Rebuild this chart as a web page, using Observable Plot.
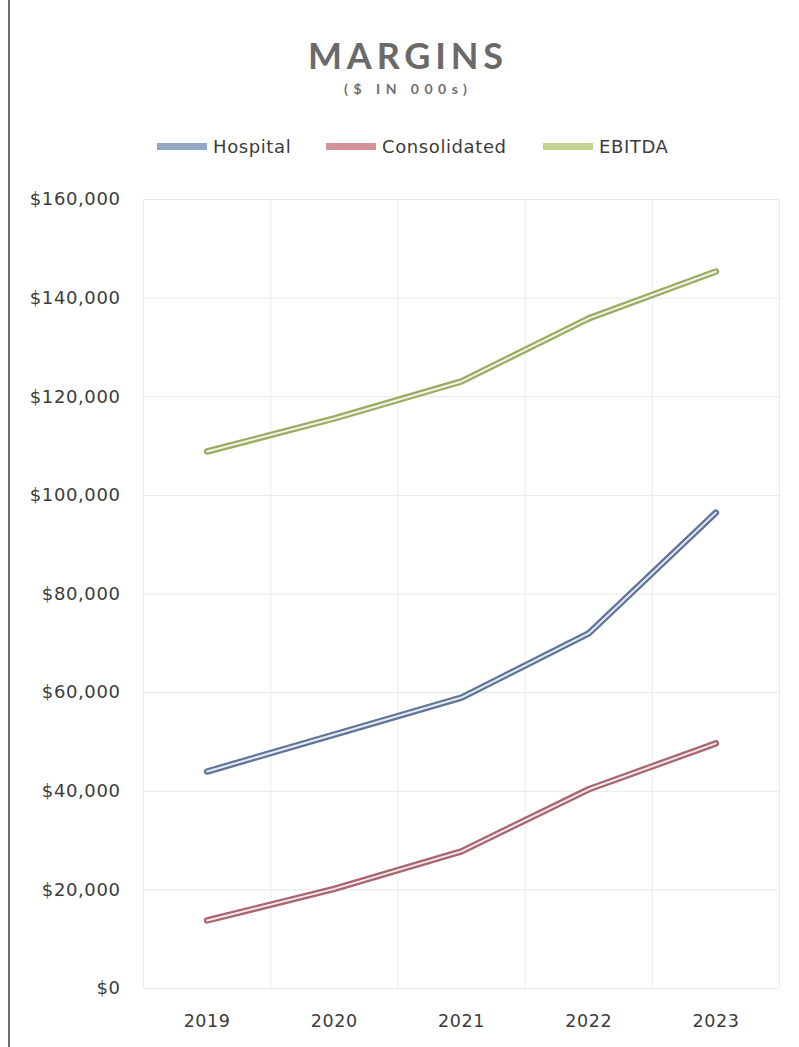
<!DOCTYPE html>
<html>
<head>
<meta charset="utf-8">
<script src="https://cdn.jsdelivr.net/npm/d3@7"></script>
<script src="https://cdn.jsdelivr.net/npm/@observablehq/plot@0.6"></script>
<style>
  html, body { margin: 0; padding: 0; background: #fff; }
  body { width: 799px; height: 1047px; position: relative; overflow: hidden; font-family: "DejaVu Sans", sans-serif; }
  #frame { position: absolute; left: 8px; top: 0; width: 2px; height: 1047px; background: #6e6e6e; }
  #title { position: absolute; top: 33px; left: 6px; width: 799px; text-align: center; font-family: Lato, sans-serif; font-size: 36px; font-weight: 700; color: #6a6a6a; letter-spacing: 4.8px; padding-left: 4.8px; box-sizing: border-box; }
  #subtitle { position: absolute; top: 80px; left: 6px; width: 799px; text-align: center; font-family: Lato, sans-serif; font-size: 14px; font-weight: 700; color: #707070; letter-spacing: 5.5px; padding-left: 5.5px; box-sizing: border-box; }
  #legend { position: absolute; top: 134px; left: 0; width: 799px; height: 24px; }
  .item { position: absolute; top: 0; display: flex; align-items: center; font-size: 18px; letter-spacing: 0.6px; color: #3c3c3c; height: 24px; }
  .sw { width: 50px; height: 7px; margin-right: 6px; }
  #chart { position: absolute; top: 170px; left: 0; }
</style>
</head>
<body>
<div id="frame"></div>
<div id="title">MARGINS</div>
<div id="subtitle">($ IN 000s)</div>
<div id="legend"></div>
<div id="chart"></div>
<script>
const years = [2019, 2020, 2021, 2022, 2023];
const seriesNames = ["Hospital", "Consolidated", "EBITDA"];
const hospital = [44000, 51500, 59000, 72000, 96500];
const consolidated = [13800, 20200, 27800, 40400, 49700];
const ebitda = [108900, 115600, 123100, 135900, 145400];
const yTicks = [0, 20000, 40000, 60000, 80000, 100000, 120000, 140000, 160000];

const lineColors = {Hospital: "#5f7599", Consolidated: "#a96570", EBITDA: "#9aac62"};
const legendColors = {Hospital: "#93a6c6", Consolidated: "#d4939b", EBITDA: "#c4d393"};

const valuesBySeries = {Hospital: hospital, Consolidated: consolidated, EBITDA: ebitda};
const data = seriesNames.flatMap(s => years.map((yr, i) => ({series: s, year: yr, value: valuesBySeries[s][i]})));

const bounds = [2018.5, 2019.5, 2020.5, 2021.5, 2022.5, 2023.5];

const chart = Plot.plot({
  width: 799,
  height: 877,
  marginLeft: 143,
  marginRight: 20,
  marginTop: 29,
  marginBottom: 59,
  style: {fontFamily: "'DejaVu Sans', sans-serif", fontSize: "18px", color: "#3c3c3c", background: "transparent", letterSpacing: "0.6px"},
  x: {domain: [2018.5, 2023.5], label: null},
  y: {domain: [0, 160000], label: null},
  marks: [
    Plot.ruleY(yTicks, {stroke: "#e8e8e8", strokeWidth: 1}),
    Plot.ruleX(bounds, {stroke: "#ececec", strokeWidth: 1}),
    Plot.axisX({ticks: years, tickFormat: d => String(d), tickSize: 0, tickPadding: 26, fontSize: 17.5, fill: "#3c3c3c"}),
    Plot.axisY({ticks: yTicks, tickFormat: d => "$" + d3.format(",")(d), tickSize: 0, tickPadding: 23, fontSize: 18, fill: "#3c3c3c"}),
    ...seriesNames.map(s => Plot.line(data.filter(d => d.series === s), {x: "year", y: "value", stroke: lineColors[s], strokeWidth: 6.5, strokeLinejoin: "miter"})),
    ...seriesNames.map(s => Plot.line(data.filter(d => d.series === s), {x: "year", y: "value", stroke: "#ffffff", strokeWidth: 2, strokeOpacity: 0.85, strokeLinejoin: "miter"}))
  ]
});
document.getElementById("chart").appendChild(chart);

const legendPos = {Hospital: 157, Consolidated: 326, EBITDA: 543};
const legend = document.getElementById("legend");
seriesNames.forEach(s => {
  const it = document.createElement("div");
  it.className = "item";
  it.style.left = legendPos[s] + "px";
  const sw = document.createElement("div");
  sw.className = "sw";
  sw.style.background = legendColors[s];
  const tx = document.createElement("span");
  tx.textContent = s;
  it.appendChild(sw);
  it.appendChild(tx);
  legend.appendChild(it);
});
</script>
</body>
</html>
